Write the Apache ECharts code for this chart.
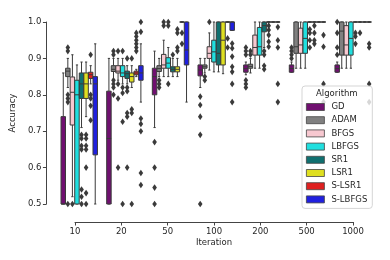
<!DOCTYPE html>
<html><head><meta charset="utf-8">
<script src="https://cdn.jsdelivr.net/npm/echarts@6/dist/echarts.min.js"></script>
<style>html,body{margin:0;padding:0;background:#fff}#c{width:390px;height:260px}</style>
</head><body><div id="c"></div>
<script>
const categories = ['10','20','50','100','200','500','1000'];
const algorithms = ['GD','ADAM','BFGS','LBFGS','SR1','LSR1','S-LSR1','S-LBFGS'];
const colors = ['#701070','#808080','#f7c8d0','#20dfdf','#107070','#dfdf20','#df2020','#2020df'];
const yTicks = [0.5, 0.6, 0.7, 0.8, 0.9, 1.0];

// box stats per iteration: [lower whisker, q1, median, q3, upper whisker]
const boxGD    = [[0.5,0.5,0.5,0.74,0.86],[0.5,0.5,0.68,0.81,0.90],[0.71,0.80,0.85,0.873,0.92],[0.82,0.852,0.868,0.882,0.90],[0.855,0.862,0.872,0.882,0.89],[0.862,0.862,0.872,0.882,0.89],[0.862,0.862,0.872,0.882,0.89]];
const boxADAM  = [[0.82,0.85,0.865,0.873,0.90],[0.84,0.864,0.87,0.88,0.90],[0.85,0.864,0.872,0.88,0.90],[0.86,0.873,0.877,0.882,0.90],[0.86,0.873,0.878,0.884,0.90],[0.873,0.914,0.932,1.0,1.0],[0.873,0.909,0.975,1.0,1.0]];
const boxBFGS  = [[0.52,0.717,0.807,0.849,0.91],[0.84,0.86,0.865,0.88,0.90],[0.85,0.873,0.882,0.911,0.95],[0.868,0.90,0.914,0.932,0.97],[0.873,0.909,0.93,0.964,1.0],[0.873,0.914,0.937,0.983,1.0],[0.873,0.909,0.937,0.99,1.0]];
const boxLBFGS = [[0.5,0.5,0.80,0.84,0.882],[0.83,0.85,0.86,0.88,0.90],[0.85,0.873,0.887,0.902,0.93],[0.863,0.89,0.918,0.95,1.0],[0.873,0.909,0.932,0.985,1.0],[0.873,0.914,0.955,1.0,1.0],[0.873,0.909,0.955,1.0,1.0]];
const boxSR1   = [[0.71,0.79,0.83,0.86,0.89],[0.83,0.845,0.858,0.865,0.88],[0.85,0.863,0.87,0.877,0.90],[0.863,0.882,0.914,1.0,1.0],[0.93,0.973,0.99,1.0,1.0],[1,1,1,1,1],[1,1,1,1,1]];
const boxLSR1  = [[0.74,0.79,0.83,0.86,0.89],[0.82,0.835,0.85,0.86,0.88],[0.85,0.863,0.87,0.877,0.90],[0.858,0.882,0.95,1.0,1.0],[1,1,1,1,1],[1,1,1,1,1],[1,1,1,1,1]];
const boxSLSR1 = [[0.83,0.845,0.855,0.862,0.88],[0.85,0.855,0.86,0.865,0.87],[1,1,1,1,1],[1,1,1,1,1],[1,1,1,1,1],[1,1,1,1,1],[1,1,1,1,1]];
const boxSLBFGS= [[0.5,0.635,0.83,0.85,0.94],[0.78,0.84,0.86,0.88,0.94],[0.78,0.882,0.923,1.0,1.0],[0.977,0.977,1.0,1.0,1.0],[1,1,1,1,1],[1,1,1,1,1],[1,1,1,1,1]];

// outliers: [iteration index, accuracy]
const flGD    = [[2,0.67],[2,0.60],[2,0.545],[2,0.5],[3,0.795],[3,0.772],[3,0.74],[3,0.69],[3,0.5],[4,0.93],[4,0.92],[4,0.91],[4,0.84],[4,0.83],[4,0.82],[5,0.93],[5,0.92],[5,0.91],[5,0.90],[6,1.0],[6,0.97],[6,0.93],[6,0.91]];
const flADAM  = [[0,0.93],[0,0.92],[0,0.80],[0,0.79],[0,0.78],[0,0.5],[1,0.92],[1,0.91],[1,0.84],[1,0.83],[1,0.82],[1,0.80],[2,0.84],[2,0.83],[2,0.82],[3,0.85],[3,0.84],[4,0.92],[4,0.91]];
const flBFGS  = [[0,0.5],[1,0.92],[1,0.83],[1,0.79],[1,0.6],[2,1.0],[2,0.99],[3,1.0]];
const flLBFGS = [[1,0.92],[1,0.82],[1,0.805],[1,0.726],[1,0.5],[2,1.0],[2,0.99],[2,0.83]];
const flSR1   = [[0,0.69],[0,0.68],[0,0.66],[0,0.65],[0,0.54],[0,0.52],[0,0.5],[1,0.90],[1,0.82],[1,0.81],[1,0.75],[1,0.74],[1,0.6],[2,0.91],[4,0.92],[4,0.91],[4,0.88],[4,0.87],[5,0.98],[5,0.97],[5,0.95],[5,0.93],[6,0.97],[6,0.96],[6,0.94]];
const flLSR1  = [[0,0.69],[0,0.68],[0,0.66],[0,0.65],[0,0.60],[0,0.53],[0,0.5],[1,0.90],[1,0.76],[1,0.75],[1,0.5],[2,0.98],[2,0.97],[2,0.93],[2,0.92],[4,0.99],[4,0.978],[4,0.964],[4,0.946],[4,0.932],[5,0.99],[5,0.97],[5,0.95],[5,0.94],[6,0.97]];
const flSLSR1 = [[0,0.91],[0,0.80],[0,0.79],[0,0.77],[0,0.73],[1,0.97],[1,0.96],[1,0.95],[1,0.94],[1,0.93],[1,0.92],[2,0.97],[2,0.94],[3,0.955],[3,0.93]];
const flSLBFGS= [[1,1.0],[1,0.973],[1,0.735],[1,0.72],[1,0.70],[1,0.585],[1,0.552],[3,0.941],[3,0.928],[3,0.905],[3,0.877],[3,0.863],[3,0.83],[3,0.78],[4,0.986],[4,0.95],[4,0.93],[4,0.83],[4,0.78],[5,0.964],[5,0.932],[5,0.83],[5,0.78],[6,0.94],[6,0.93],[6,0.83],[6,0.78]];

const boxes = [boxGD, boxADAM, boxBFGS, boxLBFGS, boxSR1, boxLSR1, boxSLSR1, boxSLBFGS];
const fliers = [flGD, flADAM, flBFGS, flLBFGS, flSR1, flLSR1, flSLSR1, flSLBFGS];

const EDGE = '#3a3a3a';
const FONT = 'DejaVu Sans';

function slotInfo(api, algIdx) {
  const band = api.size([1, 0])[0];
  const slot = band * 0.8 / algorithms.length;
  return { slot: slot, off: (algIdx - (algorithms.length - 1) / 2) * slot };
}

function boxRender(algIdx) {
  return function (params, api) {
    const cat = api.value(0);
    const v = [api.value(1), api.value(2), api.value(3), api.value(4), api.value(5)];
    const s = slotInfo(api, algIdx);
    const cx = api.coord([cat, v[2]])[0] + s.off;
    const py = v.map(function (d) { return api.coord([cat, d])[1]; });
    const w = s.slot * 0.98;
    const cap = w / 2;
    const ls = { stroke: EDGE, lineWidth: 1 };
    return {
      type: 'group',
      children: [
        { type: 'line', shape: { x1: cx, y1: py[1], x2: cx, y2: py[0] }, style: ls },
        { type: 'line', shape: { x1: cx, y1: py[3], x2: cx, y2: py[4] }, style: ls },
        { type: 'line', shape: { x1: cx - cap / 2, y1: py[0], x2: cx + cap / 2, y2: py[0] }, style: ls },
        { type: 'line', shape: { x1: cx - cap / 2, y1: py[4], x2: cx + cap / 2, y2: py[4] }, style: ls },
        { type: 'rect', shape: { x: cx - w / 2, y: py[3], width: w, height: py[1] - py[3] },
          style: { fill: colors[algIdx], stroke: EDGE, lineWidth: 1 } },
        { type: 'line', shape: { x1: cx - w / 2, y1: py[2], x2: cx + w / 2, y2: py[2] }, style: ls }
      ]
    };
  };
}

function flierRender(algIdx) {
  return function (params, api) {
    const cat = api.value(0);
    const val = api.value(1);
    const s = slotInfo(api, algIdx);
    const p = api.coord([cat, val]);
    const cx = p[0] + s.off, cy = p[1];
    return {
      type: 'polygon',
      shape: { points: [[cx, cy - 3.3], [cx + 2.3, cy], [cx, cy + 3.3], [cx - 2.3, cy]] },
      style: { fill: EDGE }
    };
  };
}

const series = [];
algorithms.forEach(function (name, i) {
  series.push({
    type: 'custom', name: name, xAxisIndex: 0, yAxisIndex: 0,
    itemStyle: { color: colors[i] },
    renderItem: boxRender(i),
    encode: { x: 0, y: [1, 2, 3, 4, 5] },
    clip: false, z: 2,
    data: boxes[i].map(function (b, c) { return [c].concat(b); })
  });
});
algorithms.forEach(function (name, i) {
  series.push({
    type: 'custom', name: name + ' outliers', xAxisIndex: 0, yAxisIndex: 0,
    renderItem: flierRender(i),
    encode: { x: 0, y: 1 },
    clip: false, z: 1,
    data: fliers[i]
  });
});

const chart = echarts.init(document.getElementById('c'), null, { renderer: 'canvas' });
chart.setOption({
  animation: false,
  backgroundColor: '#fff',
  textStyle: { fontFamily: FONT },
  title: {
    text: 'Algorithm', left: 316, top: 89, padding: 0, z: 20, zlevel: 0,
    textStyle: { fontFamily: FONT, fontSize: 8.5, fontWeight: 'normal', color: '#262626' }
  },
  legend: {
    data: algorithms, orient: 'vertical', left: 302, top: 86,
    padding: [16, 5, 4, 4],
    backgroundColor: 'rgba(255,255,255,0.8)', borderColor: '#d5d5d5', borderWidth: 1, borderRadius: 3,
    icon: 'rect', itemWidth: 18, itemHeight: 7, itemGap: 3.2,
    itemStyle: { borderColor: '#444', borderWidth: 0.8 },
    textStyle: { fontFamily: FONT, fontSize: 8.5, color: '#262626', lineHeight: 10, padding: [0, 0, 0, 2] },
    selectedMode: false, z: 10
  },
  grid: [
    { left: 52, right: 14, top: 22, bottom: 56 },
    { left: 75, right: 37, top: 221, height: 1 }
  ],
  xAxis: [
    { type: 'category', gridIndex: 0, data: categories, boundaryGap: true, show: false },
    { type: 'category', gridIndex: 1, data: categories, boundaryGap: false, position: 'bottom',
      name: 'Iteration', nameLocation: 'middle', nameGap: 16,
      nameTextStyle: { fontFamily: FONT, fontSize: 8.5, color: '#262626' },
      axisLine: { show: true, lineStyle: { color: '#444', width: 1 } },
      axisTick: { show: true, length: 3.5, alignWithLabel: true, lineStyle: { color: '#444' } },
      axisLabel: { fontFamily: FONT, fontSize: 8.5, color: '#262626', margin: 5 },
      splitLine: { show: false } }
  ],
  yAxis: [
    { type: 'value', gridIndex: 0, min: 0.5, max: 1.0, interval: 0.1, offset: 10,
      name: 'Accuracy', nameLocation: 'middle', nameGap: 23, nameRotate: 90,
      nameTextStyle: { fontFamily: FONT, fontSize: 8.5, color: '#262626' },
      axisLine: { show: true, lineStyle: { color: '#444', width: 1 } },
      axisTick: { show: true, length: 3.5, lineStyle: { color: '#444' } },
      axisLabel: { fontFamily: FONT, fontSize: 8.5, color: '#262626', margin: 5,
        formatter: function (v) { return v.toFixed(1); } },
      splitLine: { show: false } },
    { type: 'value', gridIndex: 1, show: false }
  ],
  series: series
});
</script></body></html>
